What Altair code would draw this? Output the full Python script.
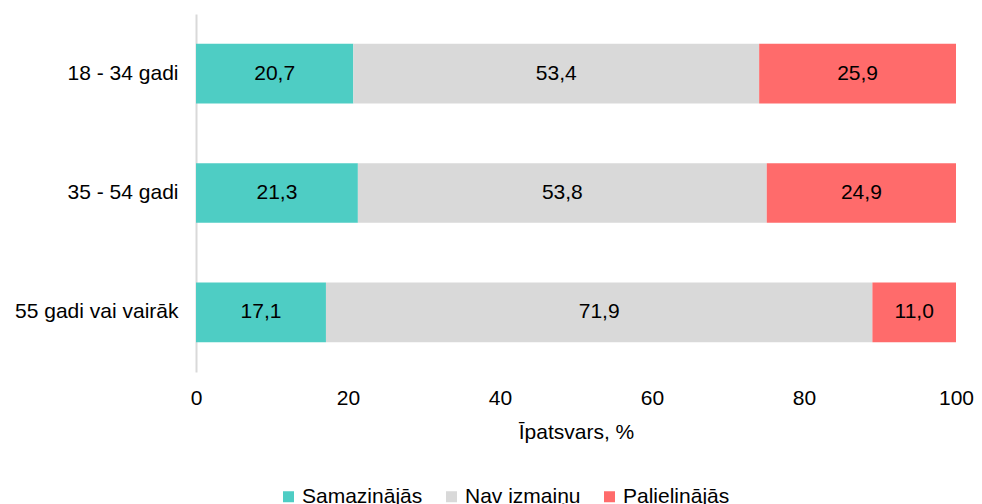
import altair as alt
import pandas as pd

groups = ["18 - 34 gadi", "35 - 54 gadi", "55 gadi vai vairāk"]
series = ["Samazinājās", "Nav izmaiņu", "Palielinājās"]
colors = ["#4ECDC4", "#D9D9D9", "#FF6B6B"]
samazinajas = [20.7, 21.3, 17.1]
nav_izmainu = [53.4, 53.8, 71.9]
palielinajas = [25.9, 24.9, 11.0]
x_ticks = [0, 20, 40, 60, 80, 100]

rows = []
for i, g in enumerate(groups):
    for j, (s, vals) in enumerate(zip(series, [samazinajas, nav_izmainu, palielinajas])):
        v = vals[i]
        rows.append({"group": g, "series": s, "order": j, "value": v,
                     "label": f"{v:.1f}".replace(".", ",")})
df = pd.DataFrame(rows)

FONT = "Liberation Sans"
FS = 21

base = alt.Chart(df).transform_stack(
    stack="value", groupby=["group"], as_=["x0", "x1"],
    sort=[alt.SortField("order", order="ascending")]
).transform_calculate(mid="(datum.x0 + datum.x1) / 2")

y_enc = alt.Y("group:N", sort=groups, title=None,
              scale=alt.Scale(paddingInner=0.5, paddingOuter=0.25),
              axis=alt.Axis(domainColor="#D9D9D9", domainWidth=2, ticks=False,
                            labelFontSize=FS, labelFont=FONT, labelColor="#000000",
                            labelPadding=18))

bars = base.mark_bar().encode(
    y=y_enc,
    x=alt.X("x0:Q", scale=alt.Scale(domain=[0, 100], nice=False),
            title="Īpatsvars, %",
            axis=alt.Axis(values=x_ticks, domain=False, ticks=False, grid=False,
                          labelFlush=False,
                          labelFontSize=FS, labelFont=FONT, labelColor="#000000",
                          labelPadding=15, titleFontSize=FS, titleFont=FONT,
                          titleFontWeight="normal", titleColor="#000000",
                          titlePadding=13)),
    x2="x1:Q",
    color=alt.Color("series:N", sort=series,
                    scale=alt.Scale(domain=series, range=colors),
                    legend=alt.Legend(title=None, orient="none", direction="horizontal",
                                      legendX=82, legendY=472,
                                      symbolType="square", symbolSize=121,
                                      symbolStrokeWidth=0, labelFontSize=FS,
                                      labelFont=FONT, labelColor="#000000",
                                      columnPadding=18, labelOffset=3)),
)

texts = base.mark_text(fontSize=FS, font=FONT, color="#000000").encode(
    y=alt.Y("group:N", sort=groups),
    x=alt.X("mid:Q"),
    text="label:N",
)

chart = (bars + texts).properties(
    width=760, height=358,
    autosize=alt.AutoSizeParams(type="none"),
    padding={"left": 188, "top": 6, "right": 18, "bottom": 150},
).configure_view(stroke=None)

chart.save("out.html", embed_options={"renderer": "svg", "actions": False})
